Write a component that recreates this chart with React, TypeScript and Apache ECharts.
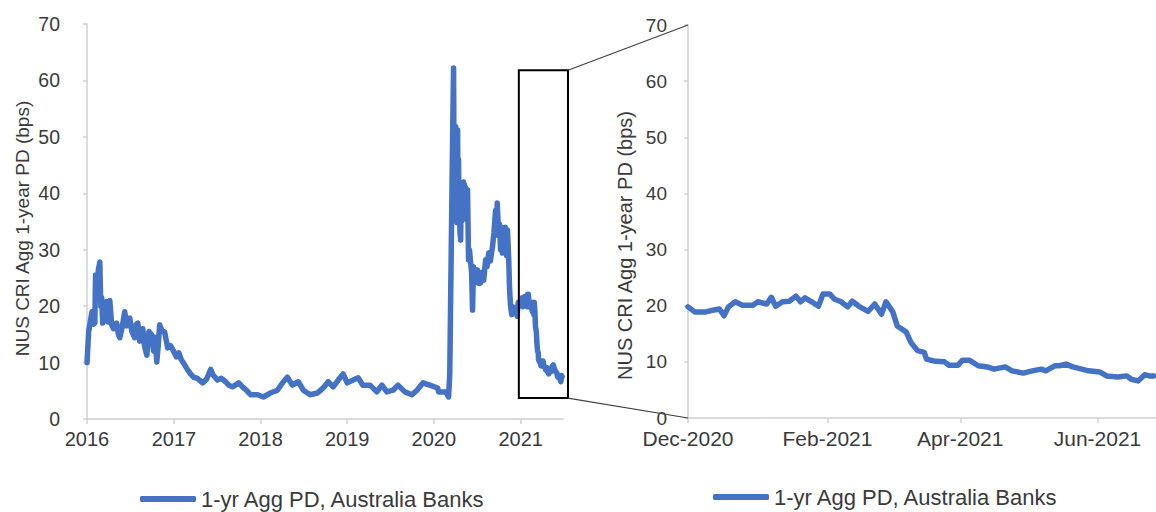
import React, { useEffect, useRef } from "react";
import * as echarts from "echarts";

const SERIES_NAME = "1-yr Agg PD, Australia Banks";

const earlyDates = [
  "2016-01-01","2016-01-08","2016-01-14","2016-01-22","2016-01-28","2016-02-03","2016-02-06","2016-02-12","2016-02-18","2016-02-24",
  "2016-02-28","2016-03-03","2016-03-07","2016-03-15","2016-03-24","2016-03-30","2016-04-06","2016-04-14","2016-04-22","2016-05-05",
  "2016-05-12","2016-05-18","2016-05-27","2016-06-08","2016-06-16","2016-06-29","2016-07-08","2016-07-20","2016-07-27","2016-08-02",
  "2016-08-10","2016-08-23","2016-08-30","2016-09-09","2016-09-18","2016-09-30","2016-10-08","2016-10-14","2016-10-21","2016-10-27",
  "2016-11-02","2016-11-12","2016-11-23","2016-12-06","2016-12-18","2017-01-01",
  "2017-01-12","2017-01-22","2017-02-01","2017-02-11","2017-02-28","2017-03-12","2017-03-25","2017-04-10","2017-05-02","2017-05-18",
  "2017-06-05","2017-06-15","2017-07-04","2017-07-20","2017-08-07","2017-08-20","2017-09-05","2017-10-01","2017-10-22","2017-11-05",
  "2017-11-20","2017-12-20",
  "2018-01-13","2018-02-11","2018-03-13","2018-04-07","2018-04-24","2018-05-15","2018-06-09","2018-06-30","2018-07-29","2018-08-28",
  "2018-09-22","2018-10-13","2018-11-03","2018-11-24","2018-12-15",
  "2019-01-01","2019-01-26","2019-02-16","2019-03-08","2019-04-07","2019-05-06","2019-05-27","2019-06-17","2019-07-13","2019-08-03",
  "2019-09-01","2019-10-01","2019-10-22","2019-11-16","2019-12-15",
  "2020-01-17","2020-01-21","2020-02-20","2020-03-03","2020-03-08","2020-03-12","2020-03-20","2020-03-24","2020-03-26","2020-03-28",
  "2020-03-31","2020-04-02","2020-04-04","2020-04-06","2020-04-08","2020-04-10","2020-04-12","2020-04-14","2020-04-16","2020-04-18",
  "2020-04-20","2020-04-23","2020-04-25","2020-04-27","2020-04-29","2020-05-01","2020-05-03","2020-05-05","2020-05-07","2020-05-09",
  "2020-05-12","2020-05-14","2020-05-16","2020-05-18","2020-05-20","2020-05-22","2020-05-26","2020-05-30","2020-06-04","2020-06-08",
  "2020-06-12","2020-06-16","2020-06-20","2020-06-24","2020-06-28","2020-07-03","2020-07-10","2020-07-16","2020-07-22","2020-07-29",
  "2020-08-06","2020-08-12","2020-08-19","2020-08-26","2020-09-04","2020-09-10","2020-09-17","2020-09-21","2020-09-24","2020-09-30",
  "2020-10-04","2020-10-08","2020-10-12","2020-10-16","2020-10-21","2020-10-25","2020-10-28","2020-11-02","2020-11-06","2020-11-11",
  "2020-11-15","2020-11-19","2020-11-24","2020-11-28",
];
const earlyValues = [
  10.0, 15.5, 17.0, 19.0, 16.8, 17.0, 25.5, 22.0, 26.5, 27.8,
  20.0, 21.5, 17.0, 18.5, 20.8, 17.2, 21.0, 16.7, 16.0, 17.0,
  15.0, 14.4, 16.0, 19.0, 16.5, 17.9, 15.5, 14.4, 16.8, 17.0,
  13.8, 16.0, 13.0, 11.3, 15.5, 14.9, 12.0, 14.5, 10.1, 13.0,
  16.7, 15.6, 15.4, 12.6, 13.0, 11.9,
  11.0, 11.7, 10.5, 9.9, 8.7, 8.0, 7.4, 7.2, 6.4, 7.0,
  8.8, 7.8, 6.9, 7.2, 6.6, 6.0, 5.7, 6.4, 5.5, 5.0,
  4.3, 4.3,
  3.9, 4.6, 5.1, 6.6, 7.4, 6.0, 6.6, 5.1, 4.3, 4.6,
  5.5, 6.6, 5.7, 6.9, 8.0,
  6.4, 6.9, 7.3, 6.0, 6.0, 4.8, 6.0, 4.8, 5.1, 6.0,
  4.8, 4.3, 5.1, 6.4, 6.0,
  5.5, 4.8, 4.8, 3.9, 8.0, 22.0, 50.0, 62.2, 45.0, 52.0,
  38.0, 51.8, 36.0, 48.0, 34.8, 51.2, 37.0, 46.0, 35.0, 42.0,
  33.0, 31.7, 40.0, 35.0, 41.0, 41.8, 36.0, 42.0, 35.5, 41.5,
  36.5, 41.0, 35.5, 40.0, 36.0, 40.6, 28.2, 30.0, 27.7, 26.0,
  19.3, 27.0, 24.0, 26.5, 24.5, 26.4, 24.0, 24.1, 26.0, 24.6,
  28.2, 27.0, 29.4, 28.0, 30.5, 33.0, 37.0, 33.0, 38.3, 32.5,
  34.5, 30.0, 34.0, 29.4, 33.5, 30.0, 34.0, 29.0, 33.5, 28.7,
  23.0, 20.0, 18.5, 19.9,
];

const zoomDates = [
  "2020-12-01","2020-12-04","2020-12-06","2020-12-09","2020-12-12","2020-12-15","2020-12-17","2020-12-19","2020-12-22","2020-12-25",
  "2020-12-30","2021-01-01","2021-01-05","2021-01-07","2021-01-09","2021-01-12","2021-01-15","2021-01-18","2021-01-20","2021-01-22",
  "2021-01-25","2021-01-28","2021-01-30","2021-02-02","2021-02-04","2021-02-07","2021-02-10","2021-02-12","2021-02-15","2021-02-19",
  "2021-02-22","2021-02-25","2021-02-27","2021-03-02","2021-03-04","2021-03-08","2021-03-10","2021-03-13","2021-03-16","2021-03-17",
  "2021-03-21","2021-03-25","2021-03-27","2021-03-31","2021-04-02","2021-04-05","2021-04-09","2021-04-13","2021-04-16","2021-04-21",
  "2021-04-24","2021-04-29","2021-05-03","2021-05-07","2021-05-09","2021-05-13","2021-05-15","2021-05-18","2021-05-21","2021-05-25",
  "2021-05-28","2021-06-02","2021-06-05","2021-06-10","2021-06-14","2021-06-16","2021-06-19","2021-06-22","2021-06-24","2021-06-26",
];
const zoomValues = [
  19.8, 18.9, 18.9, 18.9, 19.2, 19.4, 18.2, 19.8, 20.7, 20.1,
  20.1, 20.7, 20.3, 21.5, 19.9, 20.7, 20.8, 21.7, 20.7, 21.4,
  20.7, 19.9, 22.1, 22.1, 21.2, 20.7, 19.8, 20.8, 19.9, 19.0,
  20.3, 18.5, 20.7, 18.9, 16.4, 15.3, 13.5, 12.0, 11.7, 10.5,
  10.1, 10.0, 9.4, 9.4, 10.3, 10.3, 9.3, 9.1, 8.7, 9.1,
  8.4, 8.0, 8.4, 8.7, 8.4, 9.3, 9.3, 9.6, 9.1, 8.7,
  8.4, 8.2, 7.5, 7.3, 7.5, 6.9, 6.6, 7.7, 7.5, 7.5,
];

const leftTicks = ["2016-01-01", "2017-01-01", "2018-01-01", "2019-01-01", "2020-01-01", "2021-01-01"];
const rightTicks = ["2020-12-01", "2021-02-01", "2021-04-01", "2021-06-01"];
const monthNames = ["Jan","Feb","Mar","Apr","May","Jun","Jul","Aug","Sep","Oct","Nov","Dec"];

const leftRange = ["2016-01-01", "2021-06-28"];
const rightRange = ["2020-12-01", "2021-06-27"];
const highlightBox = { from: "2020-12-24", to: "2021-07-19", low: 3.7, high: 61.8 };

const ts = (d: string) => new Date(d + "T00:00:00").getTime();

const FONT = "'Liberation Sans', Arial, sans-serif";
const TXT = "#3a3a3a";
const AXIS = "#d0d0d0";
const BLUE = "#4472C4";

function yAxis(gi: number, labelSize: number, labelMargin: number, nameSize: number, nameGap: number, namePad: number[]) {
  return {
    type: "value",
    gridIndex: gi,
    min: 0,
    max: 70,
    interval: 10,
    name: "NUS CRI Agg 1-year PD (bps)",
    nameLocation: "middle",
    nameGap,
    nameTextStyle: { fontFamily: FONT, fontSize: nameSize, color: TXT, padding: namePad },
    axisLine: { show: true, lineStyle: { color: AXIS, width: 1.5 } },
    axisTick: { show: true, length: 4, lineStyle: { color: AXIS, width: 1.5 } },
    axisLabel: { fontFamily: FONT, fontSize: labelSize, color: TXT, margin: labelMargin },
    splitLine: { show: false },
  };
}

function xAxis(gi: number, range: string[], ticks: string[], size: number, fmt: (v: number) => string) {
  const vals = ticks.map(ts);
  return {
    type: "value",
    gridIndex: gi,
    min: ts(range[0]),
    max: ts(range[1]),
    axisLine: { show: true, onZero: false, lineStyle: { color: AXIS, width: 1.5 } },
    axisTick: { show: true, length: 5, lineStyle: { color: AXIS, width: 1.5 }, customValues: vals },
    axisLabel: {
      fontFamily: FONT, fontSize: size, color: TXT, margin: 10,
      customValues: vals, formatter: fmt, showMinLabel: true, showMaxLabel: true, hideOverlap: false,
    },
    splitLine: { show: false },
  };
}

export default function App() {
  const ref = useRef<HTMLDivElement>(null);
  useEffect(() => {
    document.body.style.margin = "0";
    if (!ref.current) return;
    const chart = echarts.init(ref.current, null, { renderer: "svg" });
    const leftData = earlyDates.map((d, i) => [ts(d), earlyValues[i]]).concat(zoomDates.map((d, i) => [ts(d), zoomValues[i]]));
    const rightData = zoomDates.map((d, i) => [ts(d), zoomValues[i]]);
    const legendBase = {
      data: [{ name: SERIES_NAME }],
      icon: "roundRect",
      itemWidth: 56,
      itemHeight: 6,
      selectedMode: false,
      textStyle: { fontFamily: FONT, fontSize: 22, color: TXT },
    };
    chart.setOption({
      animation: false,
      grid: [
        { left: 87, top: 24, width: 476, height: 395 },
        { left: 688, top: 25, right: 0, height: 393 },
      ],
      xAxis: [
        xAxis(0, leftRange, leftTicks, 20, (v: number) => String(new Date(v).getFullYear())),
        xAxis(1, rightRange, rightTicks, 21, (v: number) => {
          const d = new Date(v);
          return monthNames[d.getMonth()] + "-" + d.getFullYear();
        }),
      ],
      yAxis: [
        yAxis(0, 19.5, 27, 19, 55, [0, 14, 0, 0]),
        yAxis(1, 19, 21, 20, 53, [0, 48, 0, 0]),
      ],
      legend: [
        { ...legendBase, left: 135, top: 483 },
        { ...legendBase, left: 708, top: 481 },
      ],
      series: [
        {
          type: "line", name: SERIES_NAME, xAxisIndex: 0, yAxisIndex: 0, data: leftData, showSymbol: false, symbol: "none",
          lineStyle: { color: BLUE, width: 5.5, cap: "round", join: "round" }, color: BLUE,
        },
        {
          type: "line", name: SERIES_NAME, xAxisIndex: 1, yAxisIndex: 1, data: rightData, showSymbol: false, symbol: "none",
          lineStyle: { color: BLUE, width: 5.5, cap: "round", join: "round" }, color: BLUE,
        },
      ],
    });

    const p0 = (d: string, v: number) => chart.convertToPixel({ gridIndex: 0 }, [ts(d), v]) as number[];
    const p1 = (d: string, v: number) => chart.convertToPixel({ gridIndex: 1 }, [ts(d), v]) as number[];
    const tl = p0(highlightBox.from, highlightBox.high);
    const br = p0(highlightBox.to, highlightBox.low);
    const rTop = p1(rightRange[0], 70);
    const rBot = p1(rightRange[0], 0);
    chart.setOption({
      graphic: [
        {
          type: "rect", z: 100,
          shape: { x: tl[0], y: tl[1], width: br[0] - tl[0], height: br[1] - tl[1] },
          style: { fill: "none", stroke: "#000", lineWidth: 2 },
        },
        {
          type: "line", z: 100,
          shape: { x1: br[0], y1: tl[1], x2: rTop[0], y2: rTop[1] },
          style: { stroke: "#404040", lineWidth: 1.2 },
        },
        {
          type: "line", z: 100,
          shape: { x1: br[0], y1: br[1], x2: rBot[0], y2: rBot[1] },
          style: { stroke: "#404040", lineWidth: 1.2 },
        },
      ],
    });
    return () => chart.dispose();
  }, []);
  return <div ref={ref} style={{ width: 1156, height: 512, position: "absolute", left: 0, top: 0 }} />;
}
